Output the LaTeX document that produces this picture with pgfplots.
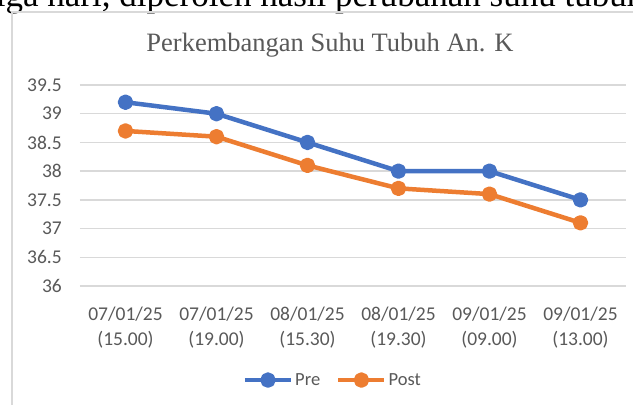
\documentclass[border=0pt]{standalone}
\usepackage{pgfplots}
\pgfplotsset{compat=1.18}
\usepackage{fontspec}
\setmainfont{Liberation Serif}
\newfontfamily\calib{Carlito}
\definecolor{preblue}{HTML}{4472C4}
\definecolor{postorange}{HTML}{ED7D31}
\definecolor{gridgray}{HTML}{D9D9D9}
\definecolor{txtgray}{HTML}{595959}
\begin{document}
\begin{tikzpicture}
\useasboundingbox (0,0) rectangle (633pt,405pt);
\clip (0,0) rectangle (633pt,405pt);
\fill[white] (0,0) rectangle (633pt,405pt);
% header text of the document (cut off)
\node[anchor=base west, inner sep=0pt, font=\fontsize{35}{40}\selectfont] at (-14pt,398pt) {tiga hari, diperoleh hasil perubahan suhu tubuh};
% chart frame
\draw[gridgray, line width=1.5pt] (12pt,-20pt) rectangle (680pt,393pt);
% title
\node[anchor=base, inner sep=0pt, text=txtgray, font=\fontsize{26.5}{30}\selectfont] at (330pt,353pt) {Perkembangan Suhu Tubuh An. K};
\begin{axis}[
  at={(80pt,119pt)}, anchor=south west,
  scale only axis, width=546pt, height=201pt,
  xmin=-0.5, xmax=5.5, ymin=36, ymax=39.5,
  axis lines*=left, axis line style={draw=none},
  tick style={draw=none},
  ytick={36,36.5,37,37.5,38,38.5,39,39.5},
  yticklabels={36,36.5,37,37.5,38,38.5,39,39.5},
  ymajorgrids, grid style={gridgray, line width=1.5pt},
  xtick={0,1,2,3,4,5},
  xticklabels={{07/01/25\\(15.00)},{07/01/25\\(19.00)},{08/01/25\\(15.30)},{08/01/25\\(19.30)},{09/01/25\\(09.00)},{09/01/25\\(13.00)}},
  ticklabel style={text=txtgray, font=\calib\fontsize{19.5}{25}\selectfont},
  yticklabel style={inner sep=0pt, anchor=east, xshift=-18pt},
  xticklabel style={align=center, inner sep=0pt, anchor=north, yshift=-21pt},
  legend style={at={(0.463,-0.468)}, anchor=center, draw=none, fill=none,
    font=\calib\fontsize{18.5}{22}\selectfont, text=txtgray,
    legend columns=-1, /tikz/every even column/.append style={column sep=14pt},
    nodes={inner sep=2pt}},
  legend image code/.code={\draw[mark repeat=2,mark phase=2,#1] plot coordinates {(0pt,0pt) (23pt,0pt) (46pt,0pt)};},
  clip=false,
]
\addplot[preblue, line width=4.5pt, line join=round, mark=*, mark size=5.5pt, mark options={solid}] coordinates {
  (0,39.2) (1,39.0) (2,38.5) (3,38.0) (4,38.0) (5,37.5)};
\addlegendentry{Pre}
\addplot[postorange, line width=4.5pt, line join=round, mark=*, mark size=5.5pt, mark options={solid}] coordinates {
  (0,38.7) (1,38.6) (2,38.1) (3,37.7) (4,37.6) (5,37.1)};
\addlegendentry{Post}
\end{axis}
\end{tikzpicture}
\end{document}
